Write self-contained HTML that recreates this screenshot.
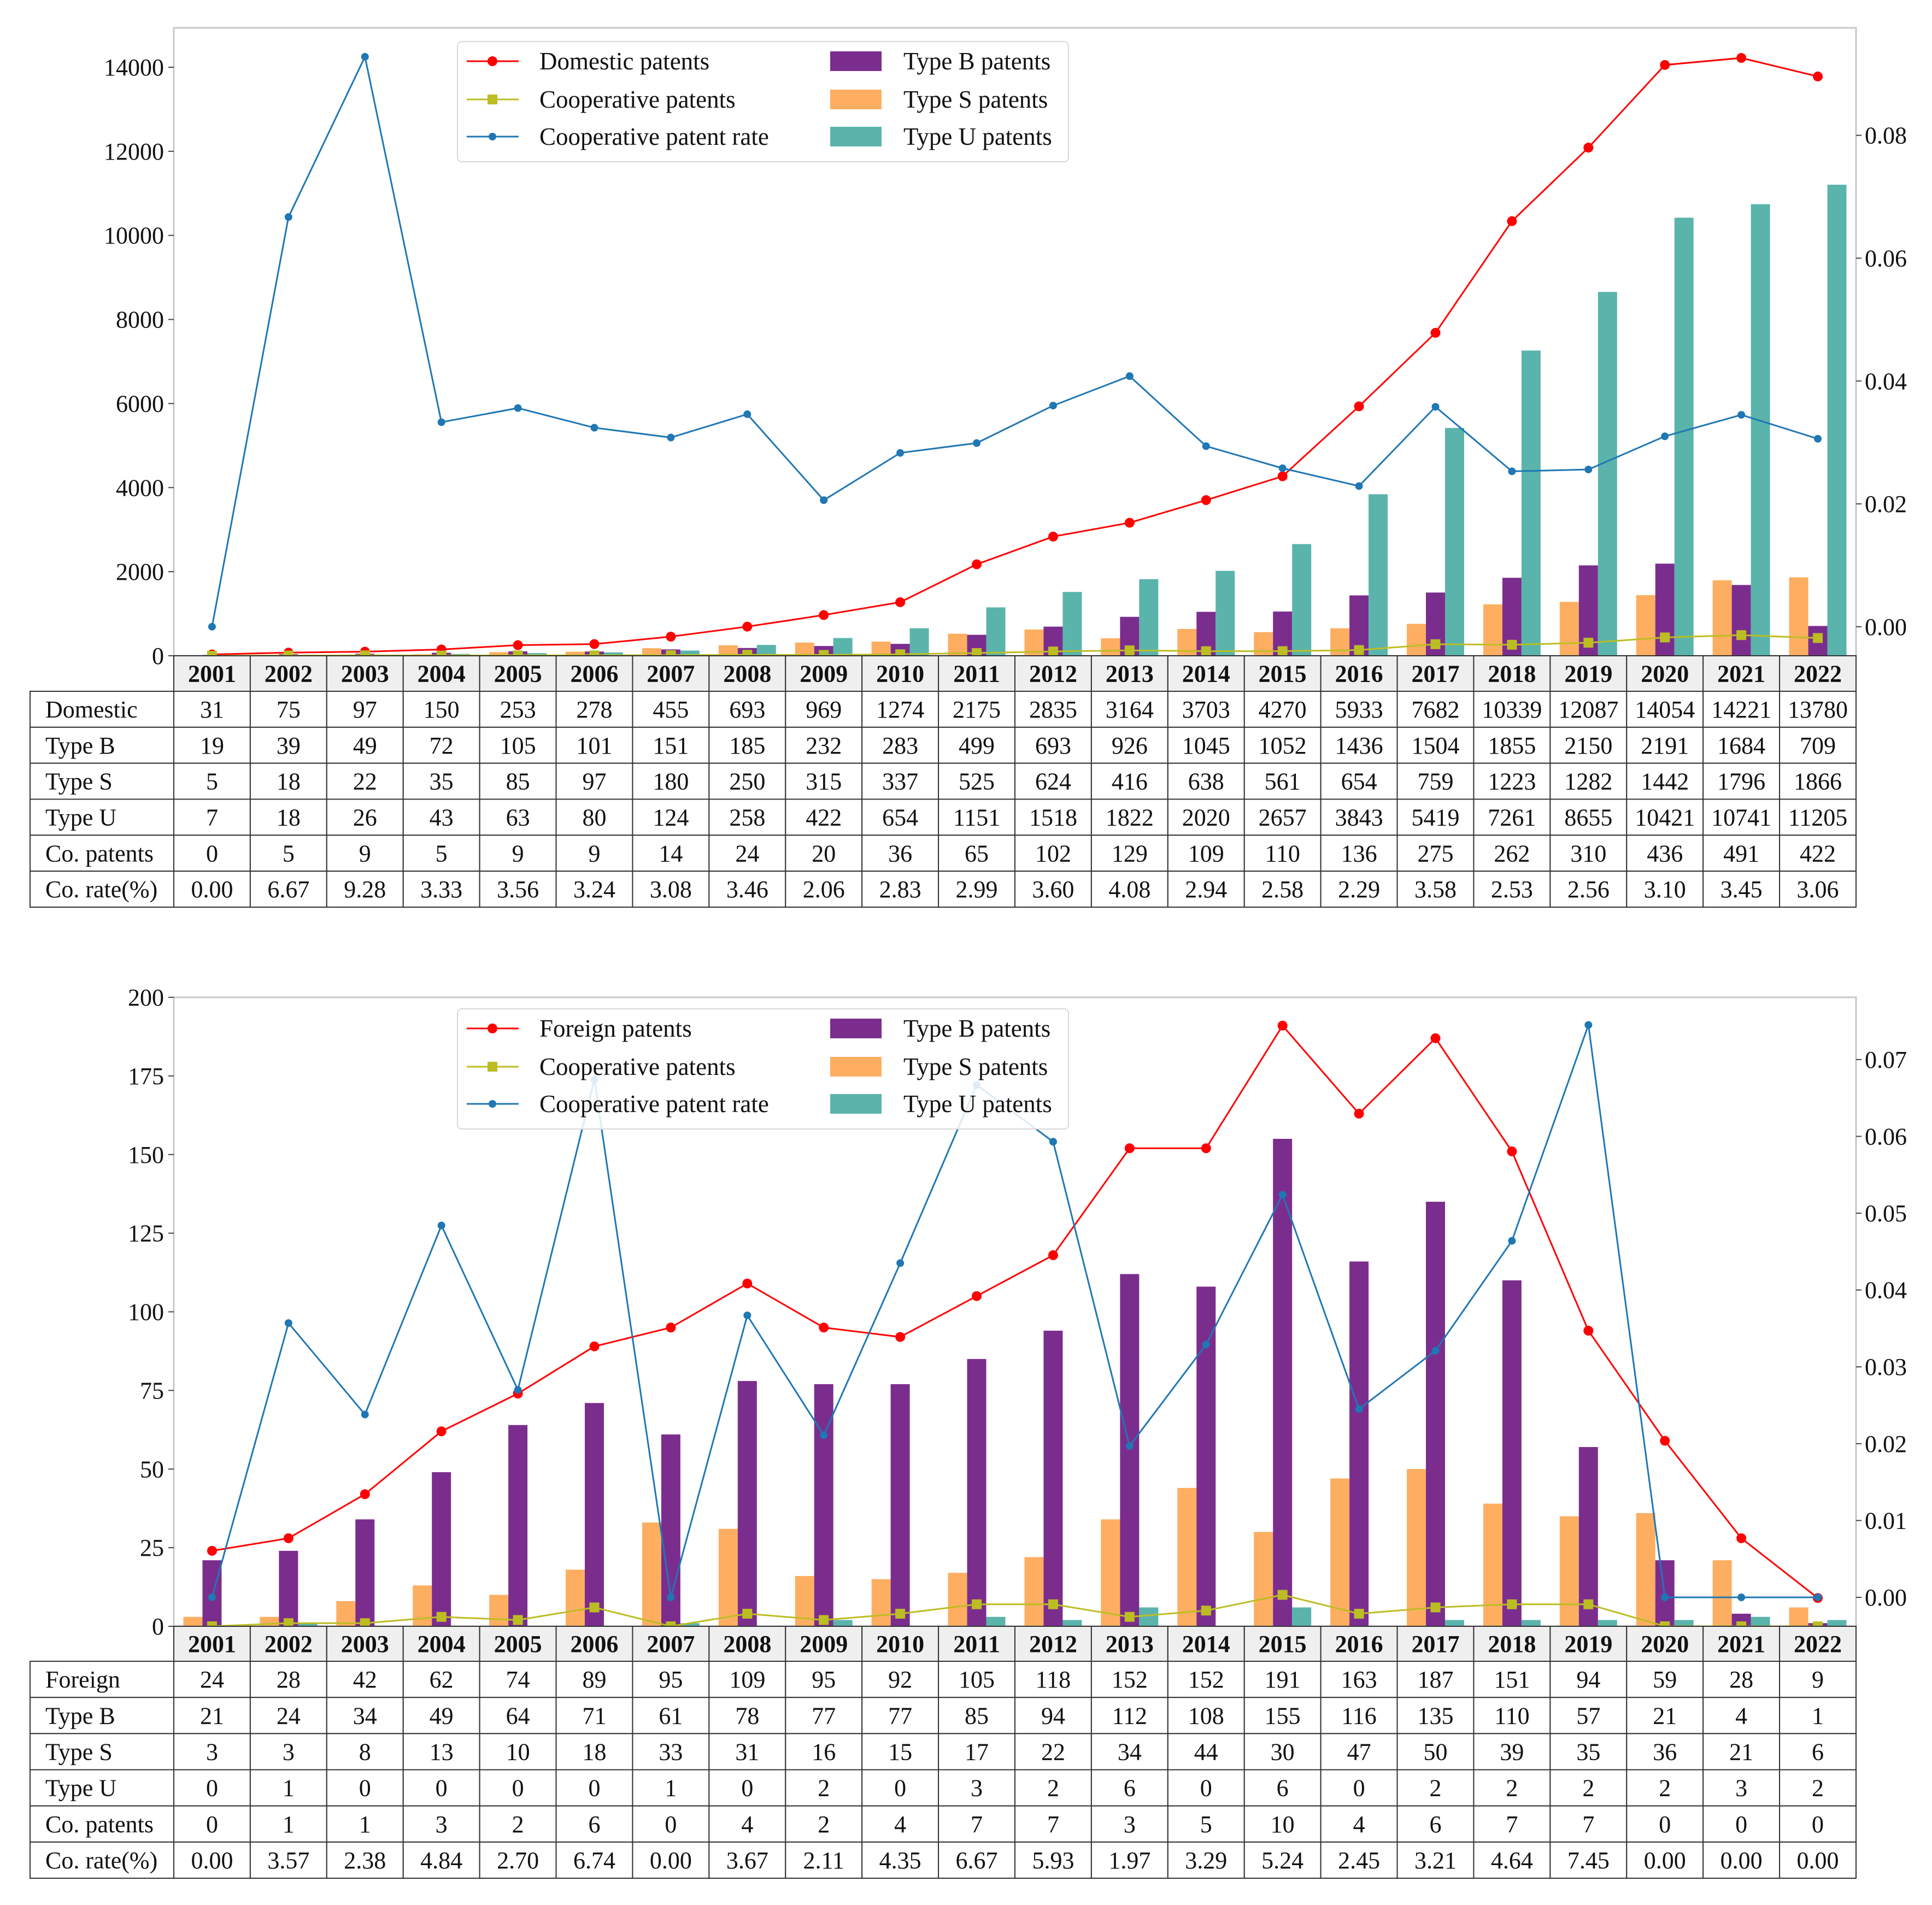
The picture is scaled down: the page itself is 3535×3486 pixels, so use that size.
<!DOCTYPE html>
<html><head><meta charset="utf-8"><style>
html,body{margin:0;padding:0;background:#fff;}
svg{display:block;font-family:"Liberation Serif","DejaVu Serif",serif;}
</style></head><body>
<svg id="chart" xmlns="http://www.w3.org/2000/svg" width="3535" height="3486" viewBox="0 0 3535 3486"></svg>
<script>
const years = ["2001","2002","2003","2004","2005","2006","2007","2008","2009","2010","2011","2012","2013","2014","2015","2016","2017","2018","2019","2020","2021","2022"];
// Top chart (domestic)
const domTotal = [31,75,97,150,253,278,455,693,969,1274,2175,2835,3164,3703,4270,5933,7682,10339,12087,14054,14221,13780];
const domB = [19,39,49,72,105,101,151,185,232,283,499,693,926,1045,1052,1436,1504,1855,2150,2191,1684,709];
const domS = [5,18,22,35,85,97,180,250,315,337,525,624,416,638,561,654,759,1223,1282,1442,1796,1866];
const domU = [7,18,26,43,63,80,124,258,422,654,1151,1518,1822,2020,2657,3843,5419,7261,8655,10421,10741,11205];
const domCo = [0,5,9,5,9,9,14,24,20,36,65,102,129,109,110,136,275,262,310,436,491,422];
const domRate = ["0.00","6.67","9.28","3.33","3.56","3.24","3.08","3.46","2.06","2.83","2.99","3.60","4.08","2.94","2.58","2.29","3.58","2.53","2.56","3.10","3.45","3.06"];
const domLeftTicks = [0,2000,4000,6000,8000,10000,12000,14000];
const domRightTicks = ["0.00","0.02","0.04","0.06","0.08"];
// Bottom chart (foreign)
const forTotal = [24,28,42,62,74,89,95,109,95,92,105,118,152,152,191,163,187,151,94,59,28,9];
const forB = [21,24,34,49,64,71,61,78,77,77,85,94,112,108,155,116,135,110,57,21,4,1];
const forS = [3,3,8,13,10,18,33,31,16,15,17,22,34,44,30,47,50,39,35,36,21,6];
const forU = [0,1,0,0,0,0,1,0,2,0,3,2,6,0,6,0,2,2,2,2,3,2];
const forCo = [0,1,1,3,2,6,0,4,2,4,7,7,3,5,10,4,6,7,7,0,0,0];
const forRate = ["0.00","3.57","2.38","4.84","2.70","6.74","0.00","3.67","2.11","4.35","6.67","5.93","1.97","3.29","5.24","2.45","3.21","4.64","7.45","0.00","0.00","0.00"];
const forLeftTicks = [0,25,50,75,100,125,150,175,200];
const forRightTicks = ["0.00","0.01","0.02","0.03","0.04","0.05","0.06","0.07"];

const NS="http://www.w3.org/2000/svg";
const svg=document.getElementById('chart');
function mk(tag,attrs,parent,text){const e=document.createElementNS(NS,tag);for(const k in attrs)e.setAttribute(k,attrs[k]);if(text!==undefined)e.textContent=text;(parent||svg).appendChild(e);return e;}

const C={red:"#ff0000",yel:"#bcbd22",blue:"#1f77b4",pur:"#7b2d8e",org:"#fdae61",teal:"#5ab4ac"};

function panel(o){
  const g=mk('g',{});
  
  
  const L=318,R=3396,T=o.top,B=o.bottom,n=years.length,cw=(R-L)/n;
  const xc=i=>L+(i+0.5)*cw;
  const yL=v=>B-(v-o.lmin)/(o.lmax-o.lmin)*(B-T);
  const yR=v=>B-(v-o.rmin)/(o.rmax-o.rmin)*(B-T);
  // frame
  const fr=mk('rect',{x:L,y:T,width:R-L,height:B-T,fill:'none',stroke:'#c8c8c8','stroke-width':3},g);
  
  // left ticks
  o.lticks.forEach(v=>{const y=yL(v);
    mk('line',{x1:L-10,x2:L,y1:y,y2:y,stroke:'#444','stroke-width':2},g);
    const t=mk('text',{x:L-18,y:y+15,'text-anchor':'end','font-size':44,fill:'#111'},g,String(v));
    });
  o.rticks.forEach(s=>{const y=yR(parseFloat(s));
    mk('line',{x1:R,x2:R+10,y1:y,y2:y,stroke:'#444','stroke-width':2},g);
    const t=mk('text',{x:R+16,y:y+15,'font-size':44,fill:'#111'},g,s);
    });
  // bars
  const bw=cw*0.25;
  const bars=[[o.S,C.org,-1,'bar-type-s'],[o.B,C.pur,0,'bar-type-b'],[o.U,C.teal,1,'bar-type-u']];
  bars.forEach(([arr,col,off,nm])=>arr.forEach((v,i)=>{
    const x=xc(i)+off*bw-bw/2,y=yL(v);
    const r=mk('rect',{x:x,y:y,width:bw,height:Math.max(0,B-y),fill:col},g);
    }));
  // lines
  function line(arr,fy,col,marker,nm,sw){
    const pts=arr.map((v,i)=>xc(i)+','+fy(v)).join(' ');
    const p=mk('polyline',{points:pts,fill:'none',stroke:col,'stroke-width':sw},g);
    
    arr.forEach((v,i)=>{let m;
      if(marker==='sq')m=mk('rect',{x:xc(i)-9,y:fy(v)-9,width:18,height:18,fill:col},g);
      else m=mk('circle',{cx:xc(i),cy:fy(v),r:marker,fill:col},g);
      });
  }
  line(o.total,yL,C.red,9,o.totalName,3);
  line(o.co,yL,C.yel,'sq','cooperative-patents',3);
  line(o.rate.map(s=>parseFloat(s)/100),yR,C.blue,7,'cooperative-rate',3);
  // legend
  const lg=mk('g',{},g);
  mk('rect',{x:837,y:o.legY,width:1118,height:220,rx:8,fill:'#fff','fill-opacity':0.85,stroke:'#d8d8d8','stroke-width':2},lg);
  const rows=[o.legY+36,o.legY+106,o.legY+174];
  const leftE=[[C.red,'c',o.totalLabel],[C.yel,'s','Cooperative patents'],[C.blue,'c2','Cooperative patent rate']];
  leftE.forEach(([col,m,txt],k)=>{const y=rows[k];
    const e=mk('g',{},lg);
    mk('line',{x1:854,x2:949,y1:y,y2:y,stroke:col,'stroke-width':3},e);
    if(m==='s')mk('rect',{x:892,y:y-9,width:18,height:18,fill:col},e);
    else mk('circle',{cx:901,cy:y,r:m==='c'?9:7,fill:col},e);
    mk('text',{x:987,y:y+15,'font-size':45,fill:'#111'},e,txt);});
  const rightE=[[C.pur,'Type B patents'],[C.org,'Type S patents'],[C.teal,'Type U patents']];
  rightE.forEach(([col,txt],k)=>{const y=rows[k];
    const e=mk('g',{},lg);
    mk('rect',{x:1519,y:y-18,width:94,height:36,fill:col},e);
    mk('text',{x:1653,y:y+15,'font-size':45,fill:'#111'},e,txt);});
  // table
  const tb=mk('g',{},g);
  const hB=o.hdrBottom,rh=(o.tblBottom-hB)/6,TL=55;
  years.forEach((yr,i)=>{
    mk('rect',{x:L+i*cw,y:B,width:cw,height:hB-B,fill:'#efefef',stroke:'#333','stroke-width':2},tb);
    const t=mk('text',{x:xc(i),y:(B+hB)/2+15,'text-anchor':'middle','font-size':44,'font-weight':'bold',fill:'#111'},tb,yr);
    });
  const rowsData=[[o.totalRow,o.total],['Type B',o.B],['Type S',o.S],['Type U',o.U],['Co. patents',o.co],['Co. rate(%)',o.rate]];
  rowsData.forEach(([lab,arr],r)=>{const y0=hB+r*rh;
    mk('rect',{x:TL,y:y0,width:L-TL,height:rh,fill:'#fff',stroke:'#333','stroke-width':2},tb);
    mk('text',{x:TL+28,y:y0+rh/2+15,'font-size':44,fill:'#111'},tb,lab);
    arr.forEach((v,i)=>{
      mk('rect',{x:L+i*cw,y:y0,width:cw,height:rh,fill:'#fff',stroke:'#333','stroke-width':2},tb);
      mk('text',{x:xc(i),y:y0+rh/2+15,'text-anchor':'middle','font-size':44,fill:'#111'},tb,String(v));});
  });
}
panel({name:'domestic-chart',top:51,bottom:1200,lmin:0,lmax:14936,rmin:-0.00473,rmax:0.0975,
  lticks:domLeftTicks,rticks:domRightTicks,total:domTotal,B:domB,S:domS,U:domU,co:domCo,rate:domRate,
  totalName:'domestic-patents',totalLabel:'Domestic patents',totalRow:'Domestic',legY:76,hdrBottom:1265,tblBottom:1660});
panel({name:'foreign-chart',top:1825,bottom:2976,lmin:0,lmax:200,rmin:-0.00377,rmax:0.0781,
  lticks:forLeftTicks,rticks:forRightTicks,total:forTotal,B:forB,S:forS,U:forU,co:forCo,rate:forRate,
  totalName:'foreign-patents',totalLabel:'Foreign patents',totalRow:'Foreign',legY:1846,hdrBottom:3040,tblBottom:3437});
</script>
</body></html>
